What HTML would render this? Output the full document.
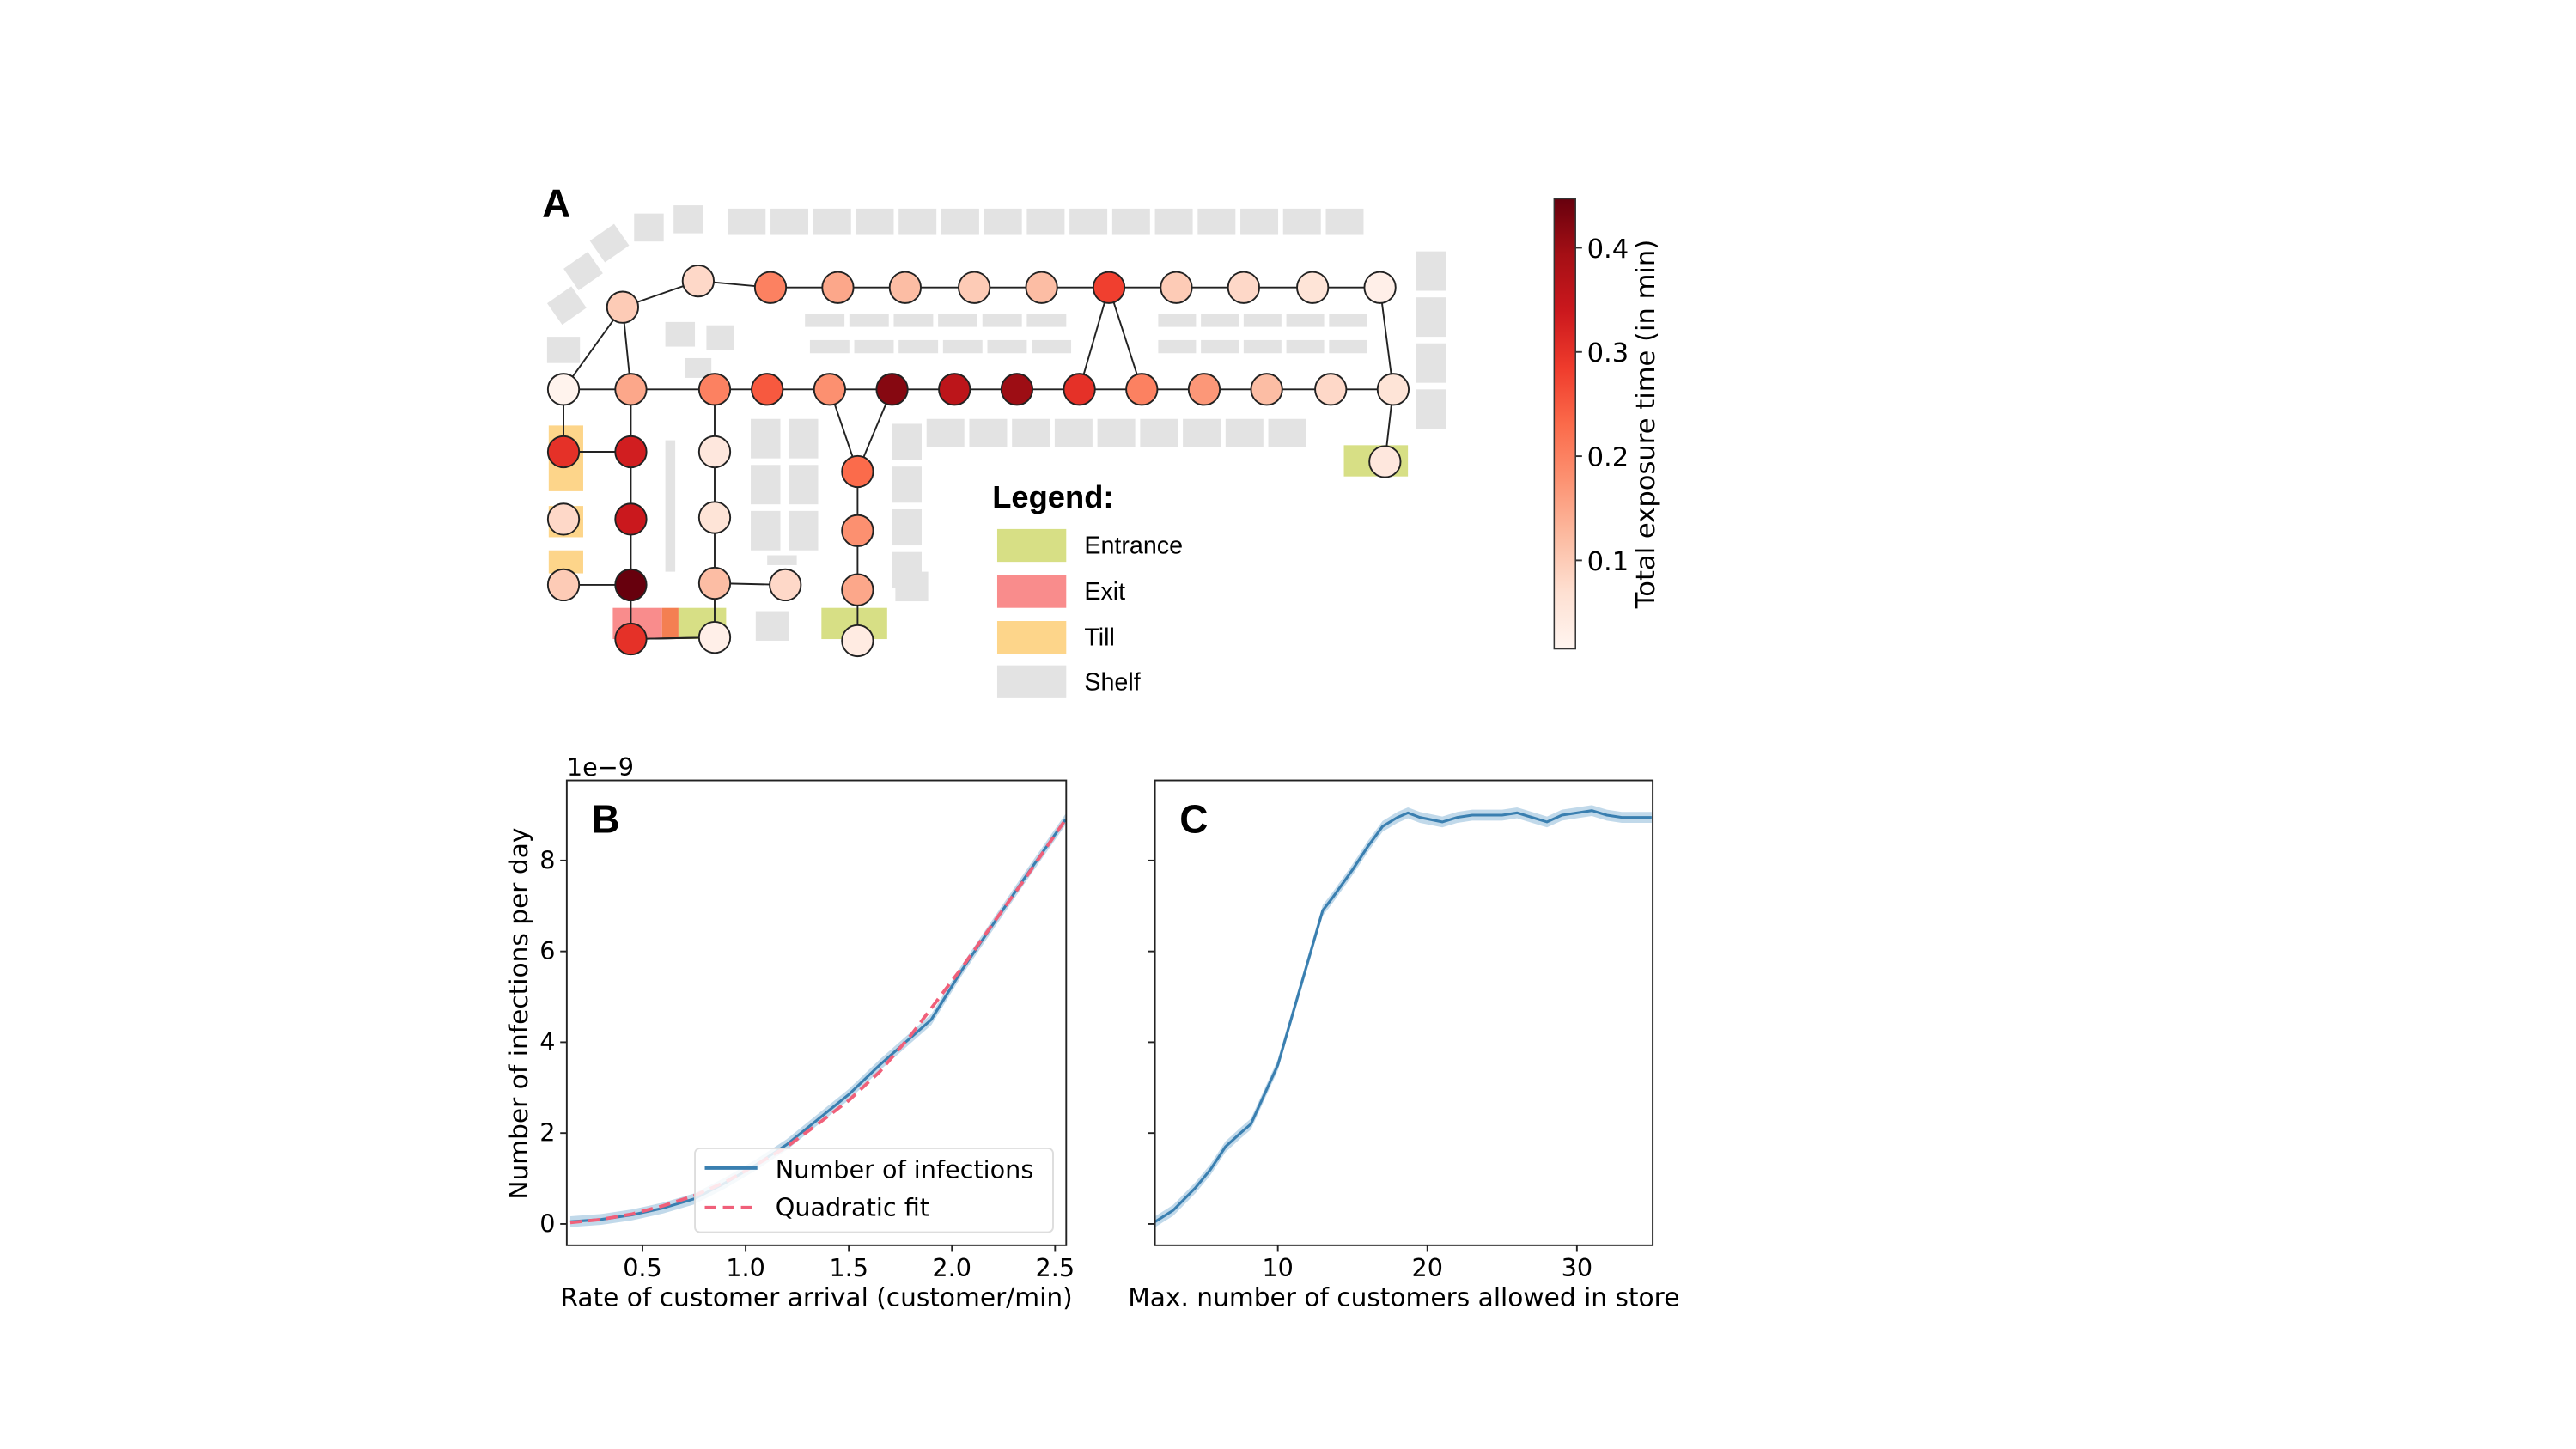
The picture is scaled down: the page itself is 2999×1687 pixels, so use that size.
<!DOCTYPE html>
<html><head><meta charset="utf-8"><style>
html,body{margin:0;padding:0;background:#fff;}
svg{display:block;font-family:"DejaVu Sans","Liberation Sans",sans-serif;}
.lg{font-family:"Liberation Sans",sans-serif;font-weight:bold;}
</style></head><body>
<svg id="fig" width="2999" height="1687" viewBox="0 0 1568 882" preserveAspectRatio="none" xmlns="http://www.w3.org/2000/svg">
<g id="panelA"></g>
<g id="cbar"></g>
<g id="panelB"></g>
<g id="panelC"></g>
</svg>
<script>
// ---------- data ----------
const nodeX = [379,425,469,510,551,593,634,675,716,757,799,840, 343,384,435,467,505,543,581,619,657,695,733,771,810,848, 343,343,343, 384,384,384,384, 435,435,435,435, 478, 522,522,522,522, 843];
const nodeY = [187,171,175,175,175,175,175,175,175,175,175,175, 237,237,237,237,237,237,237,237,237,237,237,237,237,237, 275,316,356, 275,316,356,389, 275,315,355,388, 356, 287,323,359,390, 281];
const nodeVal = [0.10,0.08,0.20,0.15,0.12,0.10,0.12,0.28,0.10,0.08,0.06,0.03, 0.02,0.15,0.20,0.25,0.18,0.42,0.36,0.40,0.30,0.20,0.17,0.12,0.08,0.06, 0.30,0.08,0.10, 0.33,0.34,0.46,0.30, 0.05,0.06,0.12,0.03, 0.08, 0.23,0.18,0.15,0.04, 0.05];
const edgeFrom = [12,0,0,1,2,3,4,5,6,7,8,9,10,11,7,7,12,13,14,15,16,17,18,19,20,21,22,23,24,25, 12,26, 28,13,29,30,31,32, 14,33,34,35,36, 37,16,17,38,39,40];
const edgeTo   = [0,1,13,2,3,4,5,6,7,8,9,10,11,25,20,21,13,14,15,16,17,18,19,20,21,22,23,24,25,42, 26,29, 31,29,30,31,32,36, 33,34,35,36,32, 35,38,38,39,40,41];
const cbTicks = [0.1,0.2,0.3,0.4];

const bX = [0.15,0.3,0.45,0.6,0.75,0.9,1.05,1.2,1.35,1.5,1.65,1.8,1.9,2.05,2.2,2.35,2.55];
const bY = [0.05,0.1,0.2,0.35,0.55,0.9,1.3,1.75,2.3,2.85,3.5,4.1,4.5,5.6,6.6,7.6,8.9];
const bFit = [0.03,0.1,0.22,0.4,0.62,0.92,1.3,1.7,2.2,2.72,3.35,4.15,4.75,5.65,6.62,7.57,8.9];
const bXTicks = [0.5,1.0,1.5,2.0,2.5];
const yTicks = [0,2,4,6,8];
const cX = [1.8,3,4.5,5.5,6.5,7.5,8.2,10,11.5,13,13.7,15,16,17,18,18.7,19.5,21,22,23,25,26,27,28,29,30,31,32,33,34,35];
const cY = [0.05,0.3,0.8,1.2,1.7,2.0,2.2,3.5,5.2,6.9,7.2,7.8,8.3,8.75,8.95,9.05,8.95,8.85,8.95,9.0,9.0,9.05,8.95,8.85,9.0,9.05,9.1,9.0,8.95,8.95,8.95];
const cXTicks = [10,20,30];

// ---------- helpers ----------
const NS="http://www.w3.org/2000/svg";
function mk(tag,attrs,parent){const e=document.createElementNS(NS,tag);for(const k in attrs)e.setAttribute(k,attrs[k]);parent.appendChild(e);return e;}
const reds=[[255,245,240],[254,224,210],[252,187,161],[252,146,114],[251,106,74],[239,59,44],[203,24,29],[165,15,21],[103,0,13]];
const vmin=0.015,vmax=0.447;
function cmap(v){let t=Math.max(0,Math.min(1,(v-vmin)/(vmax-vmin)))*8;const i=Math.min(7,Math.floor(t)),f=t-i;const a=reds[i],b=reds[i+1];return `rgb(${a.map((c,j)=>Math.round(c+(b[j]-c)*f)).join(',')})`;}

// ---------- panel A ----------
const A=document.getElementById('panelA');
const shelf='#e3e3e3';
function rect(x,y,w,h,fill,name){const r=mk('rect',{x,y,width:w,height:h,fill},A);return r;}
for(let i=0;i<15;i++)rect(443+i*26,127,23,16,shelf,'shelf');
rect(410,125,18,17,shelf,'shelf');rect(386,130,18,17,shelf,'shelf');
[[362,140],[346,157],[336,178]].forEach(p=>{const r=rect(p[0],p[1],18,16,shelf,'shelf');r.setAttribute('transform',`rotate(-35 ${p[0]+9} ${p[1]+8})`);});
rect(333,205,20,16,shelf,'shelf');
for(let i=0;i<4;i++)rect(862,153+i*28,18,24,shelf,'shelf');
for(let i=0;i<6;i++){rect(490+i*27,191,24,8,shelf,'shelf');rect(493+i*27,207,24,8,shelf,'shelf');}
for(let i=0;i<5;i++){rect(705+i*26,191,23,8,shelf,'shelf');rect(705+i*26,207,23,8,shelf,'shelf');}
rect(405,196,18,15,shelf,'shelf');rect(430,198,17,15,shelf,'shelf');rect(417,218,16,12,shelf,'shelf');
for(let i=0;i<9;i++)rect(564+i*26,255,23,17,shelf,'shelf');
for(let i=0;i<3;i++){rect(457,255+i*28,18,24,shelf,'shelf');rect(480,255+i*28,18,24,shelf,'shelf');}
for(let i=0;i<4;i++)rect(543,258+i*26,18,22,shelf,'shelf');
rect(405,268,6,80,shelf,'shelf');rect(545,348,20,18,shelf,'shelf');rect(460,372,20,18,shelf,'shelf');rect(467,338,18,6,shelf,'shelf');
rect(334,259,21,40,'#fdd58a','till');rect(334,308,21,19,'#fdd58a','till');rect(334,335,21,14,'#fdd58a','till');
rect(373,370,30,19,'#f98c8c','exit');rect(403,370,10,19,'#f47f52','exit');
rect(413,370,29,19,'#d7df85','entrance');rect(500,370,40,19,'#d7df85','entrance');rect(818,271,39,19,'#d7df85','entrance');
for(let i=0;i<edgeFrom.length;i++){const l=mk('line',{x1:nodeX[edgeFrom[i]],y1:nodeY[edgeFrom[i]],x2:nodeX[edgeTo[i]],y2:nodeY[edgeTo[i]],stroke:'#222','stroke-width':1},A);

}
for(let i=0;i<nodeX.length;i++){const c=mk('circle',{cx:nodeX[i],cy:nodeY[i],r:9.5,fill:cmap(nodeVal[i]),stroke:'#222','stroke-width':1},A);

}
const tA=mk('text',{x:330,y:132,'font-size':24,class:'lg'},A);tA.textContent='A';


const lgT=mk('text',{x:604,y:309,'font-size':19,class:'lg'},A);lgT.textContent='Legend:';


[['Entrance','#d7df85',322],['Exit','#f98c8c',350],['Till','#fdd58a',378],['Shelf','#e3e3e3',405]].forEach(d=>{
 const r=mk('rect',{x:607,y:d[2],width:42,height:20,fill:d[1]},A);
 
 
 const t=mk('text',{x:660,y:d[2]+15,'font-size':15,'font-family':'Liberation Sans, sans-serif'},A);t.textContent=d[0];
 
 
});

// ---------- colorbar ----------
const CB=document.getElementById('cbar');
const cbTop=121,cbBot=395,cbL=946,cbW=13;
const cbY=v=>cbBot-(v-vmin)/(vmax-vmin)*(cbBot-cbTop);
const defs=mk('defs',{},CB);const lg=mk('linearGradient',{id:'cbg',x1:0,y1:1,x2:0,y2:0},defs);
for(let i=0;i<=8;i++)mk('stop',{offset:i/8,'stop-color':`rgb(${reds[i].join(',')})`},lg);
const cbr=mk('rect',{x:cbL,y:cbTop,width:cbW,height:cbBot-cbTop,fill:'url(#cbg)',stroke:'#333','stroke-width':0.8},CB);


cbTicks.forEach(v=>{const y=cbY(v);mk('line',{x1:cbL+cbW,x2:cbL+cbW+4,y1:y,y2:y,stroke:'#333'},CB);
 const t=mk('text',{x:cbL+cbW+7,y:y+6,'font-size':16},CB);t.textContent=v.toFixed(1);
 
 });
const cbl=mk('text',{x:1007,y:258,'font-size':16,'text-anchor':'middle',transform:'rotate(-90 1007 258)'},CB);cbl.textContent='Total exposure time (in min)';



// ---------- charts ----------
const yPix=v=>745-v*27.65;
function chart(G,left,right,xmin,xmax,xs,ys,xt,fmt,showY,label,letter,fit){
 const xp=v=>left+(v-xmin)/(xmax-xmin)*(right-left);
 const top=475,bot=758;
 const band=[];for(let i=0;i<xs.length;i++)band.push(`${xp(xs[i])},${yPix(ys[i]+0.12)}`);
 for(let i=xs.length-1;i>=0;i--)band.push(`${xp(xs[i])},${yPix(ys[i]-0.12)}`);
 const bd=mk('polygon',{points:band.join(' '),fill:'#1f77b4','fill-opacity':0.28},G);
 
 
 const ln=mk('polyline',{points:xs.map((x,i)=>`${xp(x)},${yPix(ys[i])}`).join(' '),fill:'none',stroke:'#3a7fb0','stroke-width':1.6},G);
 
 
 if(fit){const fl=mk('polyline',{points:xs.map((x,i)=>`${xp(x)},${yPix(fit[i])}`).join(' '),fill:'none',stroke:'#f0607a','stroke-width':2,'stroke-dasharray':'7,4'},G);
 
 }
 const fr=mk('rect',{x:left,y:top,width:right-left,height:bot-top,fill:'none',stroke:'#222','stroke-width':1},G);
 
 
 xt.forEach(v=>{const x=xp(v);mk('line',{x1:x,x2:x,y1:bot,y2:bot+4,stroke:'#222'},G);
  const t=mk('text',{x:x,y:bot+19,'font-size':15,'text-anchor':'middle'},G);t.textContent=fmt(v);
  
  });
 yTicks.forEach(v=>{const y=yPix(v);mk('line',{x1:left-4,x2:left,y1:y,y2:y,stroke:'#222'},G);
  if(showY){const t=mk('text',{x:left-7,y:y+5,'font-size':15,'text-anchor':'end'},G);t.textContent=v;
  
  }});
 const xl=mk('text',{x:(left+right)/2,y:bot+37,'font-size':15.5,'text-anchor':'middle'},G);xl.textContent=label;
 
 
 const pl=mk('text',{x:left+15,y:top+32,'font-size':24,class:'lg'},G);pl.textContent=letter;
 
 
}
const B=document.getElementById('panelB'),C=document.getElementById('panelC');
chart(B,345,649,0.133,2.554,bX,bY,bXTicks,v=>v.toFixed(1),true,'Rate of customer arrival (customer/min)','B',bFit);
chart(C,703,1006,1.78,35.07,cX,cY,cXTicks,v=>String(v),false,'Max. number of customers allowed in store','C',null);
const ex=mk('text',{x:345,y:472,'font-size':15},B);ex.textContent='1e\u22129';


const yl=mk('text',{x:321,y:617,'font-size':15.5,'text-anchor':'middle',transform:'rotate(-90 321 617)'},B);yl.textContent='Number of infections per day';


// legend
const lbox=mk('rect',{x:423,y:699,width:218,height:51,rx:3,fill:'#fff','fill-opacity':0.85,stroke:'#ddd'},B);


mk('line',{x1:429,x2:461,y1:711,y2:711,stroke:'#3a7fb0','stroke-width':2},B);
mk('line',{x1:429,x2:461,y1:735,y2:735,stroke:'#f0607a','stroke-width':2,'stroke-dasharray':'7,4'},B);
const l1=mk('text',{x:472,y:717,'font-size':15},B);l1.textContent='Number of infections';


const l2=mk('text',{x:472,y:740,'font-size':15},B);l2.textContent='Quadratic fit';


</script>
</body></html>
